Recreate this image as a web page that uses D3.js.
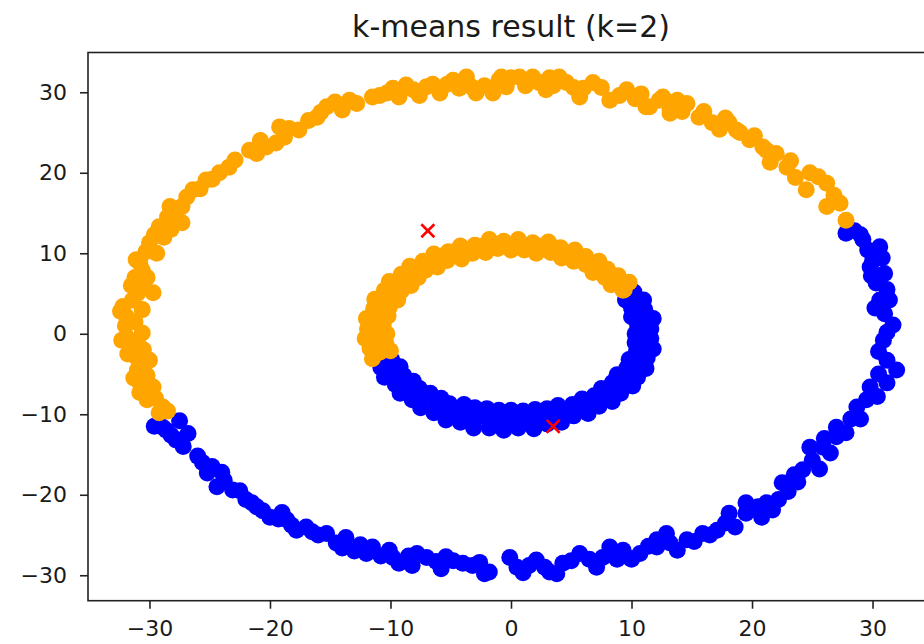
<!DOCTYPE html>
<html>
<head>
<meta charset="utf-8">
<script src="https://cdn.jsdelivr.net/npm/d3@7"></script>
<style>
  html, body { margin: 0; padding: 0; background: #fff; }
  svg { display: block; }
  text { font-family: "DejaVu Sans", sans-serif; fill: #1a1a1a; }
</style>
</head>
<body>
<svg id="chart" width="924" height="644"></svg>
<script>
// k-means (k=2) assignment on two concentric rings

const titleText = "k-means result (k=2)";
const xTicks = [-30, -20, -10, 0, 10, 20, 30];
const yTicks = [-30, -20, -10, 0, 10, 20, 30];

// cluster 0 (orange): outer ring points
const outerOrange = [
  [27.8,14.1],[27.3,16.2],[26.2,15.8],[26.2,18.7],[24.8,20],[24.5,17.9],[23.6,19.4],[22.9,20.7],
  [22,22.4],[21.5,21.3],[20.9,23.2],[19.8,24.1],[18.7,25.3],[18.1,26.2],[16.7,26.2],[17.3,25.4],
  [15.6,26.9],[14.6,28.6],[13.2,27.8],[12.3,29],[11.5,28.2],[13.2,27.4],[12.6,29.4],[11.2,28.2],
  [10.3,29.2],[9.6,30.3],[8.2,29],[6.8,31.2],[6,30.5],[5.7,29.4],[4.6,31.2],[4,31.9],[3.5,30.8],
  [2.9,30.3],[1.8,31.9],[0.7,31.9],[-0.4,30.7],[-1,31.5],[-1.5,29.9],[-2.9,29.9],[-3.7,31.9],
  [-4.8,31.5],[-5.9,29.9],[-6.5,31],[-7,30.7],[-8.1,30.3],[-9.3,29.4],[-10.3,29.9],[-11.5,29.4],
  [-13.4,29],[-14,27.8],[-15.3,28.2],[-16.1,26.9],[-17.6,25.3],[-19.2,25.7],[-19.5,23.7],
  [-20.3,23.2],[-21.7,22.8],[-23.4,20.7],[-24.2,20],[-25.3,19.1],[-25.8,18],[-26.4,17.9],
  [-27.3,15.8],[-28.3,15.8],[-28.5,14.5],[-27.3,13.8],[-29.2,13.3],[-28.8,12],[-30,11.3],[-31.1,9.2],
  [-29.4,10],[-30.6,7.9],[-30.2,7],[-31.5,6],[-29.7,5.1],[-31.4,4.2],[-32.2,3.4],[-31.9,2.1],
  [-30.6,3],[-32,1],[-31.9,-0.4],[-30.6,0.1],[-31.5,-1.5],[-31.1,-2.9],[-30,-3.3],[-31,-4.5],
  [-30.8,-6.1],[-29.7,-6.6],[-30.2,-8.2],[-29.5,-8],[-28.9,-9.1],
  [26.8,17.2],[25.5,19.5],[23.2,21.5],[21.2,22.8],[20.2,24.6],[19,25],[17.8,26.8],[16,27.6],
  [14.2,27.6],[13.8,29],[10.8,29.8],[9,29.6],[7.5,30.6],[5.2,30.6],[3.2,31.8],[2.3,31.2],
  [1.2,30.8],[0,31.8],[-0.8,31.9],[-2.2,30.8],[-3.3,30.7],[-4.3,30.5],[-5.3,31],[-7.6,29.6],
  [-8.7,30.9],[-9.8,30.5],[-10.9,29.6],[-12.8,28.6],[-14.6,28.8],[-15.8,27.5],[-16.8,26.5],
  [-18.4,25.5],[-18.8,24.4],[-20.8,24],[-21.1,22.4],[-22.9,21.6],[-24.8,19.2],[-26.9,17],
  [-27.8,15],[-28.2,13],[-29.6,12.3],[-30.3,10.2],[-30.8,8.8],[-31.2,7],[-30.5,5.8],[-31,5],
  [-32.4,2.8],[-31.2,1.5],[-32.3,-0.8],[-31,-1],[-30.5,-2],[-31.8,-2.5],[-30.5,-4.2],[-31.3,-5.5],
  [-30.2,-5.2],[-29.8,-7.5],[-30.8,-7.3],[-29.2,-9.8],[-28.5,-9.6]
];

// cluster 0 (orange): inner ring points
const innerOrange = [
  [9.3,5.4],[8.3,6.1],[7.8,7.0],[6.8,7.6],[6.2,8.6],[5.2,9.0],[4.2,9.4],[3.3,10.1],[2.1,10.0],
  [1.1,10.4],[0,10.4],[-1.1,10.6],[-2.1,10.1],[-3.2,10.0],[-4.1,9.3],[-5.3,9.1],[-6.1,8.3],
  [-7.1,7.9],[-7.7,7.0],[-8.3,6.0],[-9.1,5.3],[-9.4,4.2],[-10.1,3.3],[-10.2,2.2],[-10.6,1.1],
  [-10.3,0],[-10.4,-1.1],[-10.0,-2.1],
  [9.8,6.4],[8.9,7.2],[8.0,8.0],[7.3,9.0],[6.2,9.6],[5.3,10.4],[4.1,10.7],[3.1,11.4],[1.8,11.3],
  [0.6,11.7],[-0.6,11.5],[-1.8,11.7],[-3.0,11.0],[-4.2,10.9],[-5.2,10.2],[-6.4,9.9],[-7.3,9.0],
  [-8.4,8.4],[-9.1,7.4],[-10.1,6.5],[-10.5,5.4],[-11.3,4.3],[-11.4,3.1],[-12.0,1.9],[-11.9,0.6],
  [-12.1,-0.6],[-11.7,-1.8],[-11.5,-3.1],
  [8.8,6.4],[7.4,8.2],[5.5,9.5],[3.4,10.6],[1.1,10.8],[-1.2,11.0],[-3.4,10.5],[-5.6,9.7],
  [-7.6,8.4],[-9.2,6.7],[-10.3,4.6],[-11.2,2.4],[-11.3,0],[-10.9,-2.3],
  [9.4,5.5],[8.2,7.4],[6.5,8.9],[4.5,10.1],[2.3,10.9],[0,10.9],[-2.3,10.9],[-4.4,10.0],
  [-6.6,9.1],[-8.2,7.4],[-9.8,5.7],[-10.5,3.4],[-11.4,1.2],[-10.9,-1.2]
];

// cluster 1 (blue): outer ring points
const outerBlue = [
  [27.8,12.5],[28.5,12.8],[29.2,11.7],[30.6,10.8],[30.3,10],[30,9],[29.8,8.3],[30.3,6.3],[30.6,4.2],
  [31.4,4.2],[31,2.5],[31.7,1.1],[30.9,-0.8],[31.2,-3.3],[30.5,-5],[31.2,-6.1],[29.8,-6.6],
  [28.7,-9.1],[27,-11.6],[27.8,-12.3],[27,-12.8],[26,-13],[25.9,-14.1],[24.8,-14.1],[25,-15.7],
  [24.2,-16.9],[23.5,-17.5],[22.5,-18.5],[21.7,-21.9],[21.2,-21],[20.5,-21.5],[19.5,-21],[18.1,-22.3],
  [17.1,-24.4],[16.5,-25],[15.9,-24.8],[14.6,-25.6],[13.2,-26],[12.1,-26.5],[12.9,-24.8],[12.1,-25.6],
  [10.7,-27.3],[9.3,-26.9],[8.2,-26.5],[7.1,-29],[6.5,-28],[5.7,-27.3],[4.3,-28.5],[3.2,-29.6],
  [2.8,-29],[2.1,-28.1],[1,-29.7],[0.5,-29],[-0.1,-27.8],[-1.8,-29.6],[-2.6,-28.4],[-3.2,-28.8],
  [-4,-28.5],[-5.4,-27.7],[-6.2,-28.3],[-7,-27.8],[-7.8,-27.3],[-8.5,-27.6],[-9.3,-28.5],[-10.1,-26.9],
  [-11.5,-26.5],[-12,-27.3],[-13.7,-25.3],[-14.5,-26],[-15.3,-24.8],[-16,-25],[-17,-24],[-17.8,-24.4],
  [-18.6,-23.1],[-19.3,-23],[-20,-22.8],[-21.1,-21.5],[-21.5,-21],[-22,-20.6],[-23.1,-19.4],
  [-23.8,-18.2],[-24.4,-19],[-24.8,-16.5],[-25.6,-16],[-27.8,-13.2],[-28.6,-12],[-28.9,-11.6],
  [-27.5,-10.8],[-27.5,-13.2],
  [29,12.3],[29.6,10.4],[30.8,9.4],[31,7.5],[29.9,7.2],[31.2,5.5],[30.2,3.2],[31.2,0.2],
  [30.5,-2.2],[32,-4.5],[30.4,-7.8],[29.5,-8.2],[28.2,-10.6],[29,-10.6],[26.5,-14.8],[25.6,-16.8],
  [23.8,-18.4],[23,-19.6],[22.2,-20.6],[20.8,-22.8],[19.5,-22.3],[18.6,-24],[17.8,-23.5],
  [15.2,-25.8],[13.8,-26.9],[11.4,-26.4],[10,-28],[9.5,-27.6],[8.8,-28],[7.6,-27.8],[5,-28.2],
  [3.8,-29.8],[1.5,-28.8],[-2.2,-29.8],[-4.8,-28.2],[-5.8,-29.2],[-8.2,-28.8],[-9.8,-27.8],
  [-10.8,-27.6],[-12.5,-26.2],[-13,-27],[-14,-26.6],[-16.5,-24.6],[-18.2,-23.8],[-19,-22.2],
  [-20.6,-22],[-22.5,-19.5],[-24,-17.2],[-25.2,-17.3],[-26,-15.2],[-27.2,-14],[-26.8,-12.4],
  [-28.2,-12.6],[-29.6,-11.5]
];

// cluster 1 (blue): inner ring points
const innerBlue = [
  [10.3,0],[10.5,1.1],[10.0,2.1],[10.0,3.2],[9.5,4.2],
  [-9.9,-3.2],[-9.2,-4.1],[-8.9,-5.2],[-8.1,-5.9],[-7.6,-6.8],[-6.7,-7.4],[-5.8,-8.0],[-5.1,-8.7],
  [-3.9,-8.8],[-3.0,-9.2],[-2.0,-9.3],[-1.0,-9.5],[0,-9.5],[1.0,-9.6],[2.0,-9.4],[3.0,-9.3],
  [3.9,-8.9],[5.1,-8.8],[5.9,-8.1],[6.9,-7.7],[7.5,-6.8],[8.4,-6.1],[8.8,-5.1],[9.6,-4.3],
  [9.8,-3.2],[10.4,-2.2],[10.3,-1.1],
  [11.6,0.6],[11.8,1.9],[11.1,3.0],[11.0,4.2],[10.2,5.2],
  [-10.8,-4.2],[-10.5,-5.4],[-9.6,-6.3],[-9.2,-7.4],[-8.2,-8.2],[-7.5,-9.2],[-6.4,-9.8],[-5.4,-10.7],
  [-4.2,-11.0],[-3.1,-11.7],[-1.8,-11.7],[-0.6,-12.0],[0.6,-11.7],[1.9,-11.8],[3.0,-11.2],[4.2,-11.0],
  [5.2,-10.2],[6.4,-9.9],[7.3,-9.0],[8.4,-8.4],[9.1,-7.4],[10.1,-6.5],[10.5,-5.4],[11.2,-4.3],
  [11.3,-3.0],[11.8,-1.9],[11.6,-0.6],
  [11.1,0],[10.8,2.3],[10.2,4.6],
  [-10.0,-4.4],[-8.7,-6.3],[-7.2,-8.0],[-5.4,-9.4],[-3.3,-10.2],[-1.1,-10.7],[1.1,-10.6],
  [3.3,-10.3],[5.5,-9.4],[7.4,-8.2],[9.0,-6.5],[10.2,-4.6],[10.9,-2.3],
  [10.9,1.2],[10.6,3.4],[-10.5,-3.4],[-9.4,-5.4],[-8.2,-7.4],[-6.2,-8.6],[-4.4,-10.0],[-2.2,-10.3],
  [0,-11.0],[2.2,-10.4],[4.4,-9.9],[6.2,-8.6],[8.2,-7.4],[9.4,-5.5],[10.6,-3.4],[10.7,-1.1]
];

// final cluster centres
const centroids = [[-6.9, 12.8], [3.5, -11.5]];

const svg = d3.select("#chart");
const plotLeft = 88, plotRight = 934, plotTop = 52.5, plotBottom = 600.7;

const x = d3.scaleLinear().domain([-35.1, 35.1]).range([plotLeft, plotRight]);
const y = d3.scaleLinear().domain([-33.16, 34.94]).range([plotBottom, plotTop]);

const plot = svg.append("g");

function drawPoints(pts, color) {
  plot.append("g")
    .selectAll("circle")
    .data(pts)
    .join("circle")
    .attr("cx", d => x(d[0]))
    .attr("cy", d => y(d[1]))
    .attr("r", 8.5)
    .attr("fill", color);
}

drawPoints(outerBlue, "#0000ff");
drawPoints(innerBlue, "#0000ff");
drawPoints(outerOrange, "#ffa500");
drawPoints(innerOrange, "#ffa500");

// centroid crosses
const arm = 6.5;
const cg = plot.append("g").selectAll("g").data(centroids).join("g")
  .attr("transform", d => `translate(${x(d[0])},${y(d[1])})`);
cg.append("line").attr("x1", -arm).attr("y1", -arm).attr("x2", arm).attr("y2", arm)
  .attr("stroke", "#ff0000").attr("stroke-width", 2.6);
cg.append("line").attr("x1", -arm).attr("y1", arm).attr("x2", arm).attr("y2", -arm)
  .attr("stroke", "#ff0000").attr("stroke-width", 2.6);

// frame
svg.append("rect")
  .attr("x", plotLeft).attr("y", plotTop)
  .attr("width", plotRight - plotLeft).attr("height", plotBottom - plotTop)
  .attr("fill", "none").attr("stroke", "#222").attr("stroke-width", 1.6);

// axes
const fmt = d3.format("d");
const xAxis = svg.append("g")
  .attr("transform", `translate(0,${plotBottom})`)
  .call(d3.axisBottom(x).tickValues(xTicks).tickFormat(fmt).tickSize(8).tickPadding(12));
const yAxis = svg.append("g")
  .attr("transform", `translate(${plotLeft},0)`)
  .call(d3.axisLeft(y).tickValues(yTicks).tickFormat(fmt).tickSize(8).tickPadding(13));

[xAxis, yAxis].forEach(a => {
  a.select(".domain").remove();
  a.selectAll(".tick line").attr("stroke", "#222").attr("stroke-width", 1.6);
  a.selectAll(".tick text")
    .attr("font-family", "DejaVu Sans, sans-serif")
    .attr("font-size", 22)
    .attr("fill", "#1a1a1a");
});

// title
svg.append("text")
  .attr("x", (plotLeft + plotRight) / 2)
  .attr("y", 37)
  .attr("text-anchor", "middle")
  .attr("font-size", 30)
  .text(titleText);
</script>
</body>
</html>
